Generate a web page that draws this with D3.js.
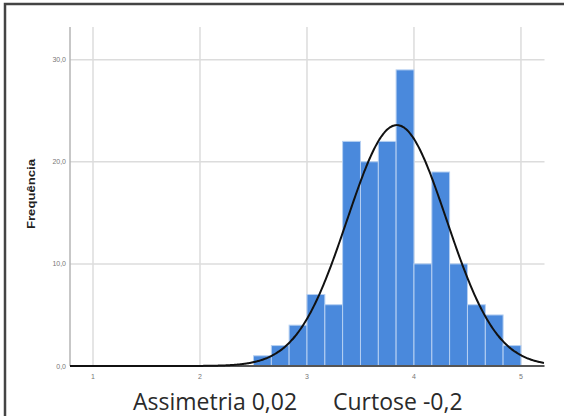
<!DOCTYPE html>
<html>
<head>
    <meta charset="utf-8">
    <title>Histograma</title>
    <script src="https://d3js.org/d3.v7.min.js"></script>
    <style>
        body { margin: 0; background: #fff; }
        .grid line { stroke: #dcdcdc; stroke-width: 1.5; }
        .tick-label { font: 7px Arial, "Liberation Sans", sans-serif; fill: #777; }
        .bar { fill: #4a89dc; stroke: #b6d0f2; stroke-width: 1; }
        .curve { fill: none; stroke: #111; stroke-width: 2; }
        .note { font: 23px "Open Sans", sans-serif; fill: #2a2a2a; }
    </style>
</head>
<body>
    <svg id="chart" width="564" height="416"></svg>

    <script>
        // histogram bins (lower edges) and frequencies
        var binStart = [2.5, 2.667, 2.833, 3.0, 3.167, 3.333, 3.5, 3.667, 3.833, 4.0, 4.167, 4.333, 4.5, 4.667, 4.833];
        var binEnd   = [2.667, 2.833, 3.0, 3.167, 3.333, 3.5, 3.667, 3.833, 4.0, 4.167, 4.333, 4.5, 4.667, 4.833, 5.0];
        var counts   = [1, 2, 4, 7, 6, 22, 20, 22, 29, 10, 19, 10, 6, 5, 2];

        var xTicks = [1, 2, 3, 4, 5];
        var yTicks = [0, 10, 20, 30];
        var yTickLabels = ["0,0", "10,0", "20,0", "30,0"];

        // fitted normal curve parameters
        var fitMean = 3.84, fitSd = 0.465, binWidth = 1 / 6;

        var svg = d3.select("#chart");

        // outer frame
        svg.append("rect")
            .attr("x", 5).attr("y", 4)
            .attr("width", 600).attr("height", 500)
            .attr("fill", "none")
            .attr("stroke", "#444")
            .attr("stroke-width", 2.5);

        var x = d3.scaleLinear().domain([0.785, 5.22]).range([70, 544.5]),
            y = d3.scaleLinear().domain([0, 33.2]).range([366, 27]);

        // grid lines
        var grid = svg.append("g").attr("class", "grid");
        grid.selectAll(".vg")
            .data(xTicks)
            .enter().append("line")
            .attr("x1", function(d) { return x(d); })
            .attr("x2", function(d) { return x(d); })
            .attr("y1", y.range()[1])
            .attr("y2", y(0));
        grid.selectAll(".hg")
            .data(yTicks.slice(1))
            .enter().append("line")
            .attr("x1", x.range()[0])
            .attr("x2", x.range()[1])
            .attr("y1", function(d) { return y(d); })
            .attr("y2", function(d) { return y(d); });

        // y axis line
        svg.append("line")
            .attr("x1", x.range()[0]).attr("x2", x.range()[0])
            .attr("y1", y.range()[1]).attr("y2", y(0))
            .attr("stroke", "#b5b5b5")
            .attr("stroke-width", 1.5);

        // bars
        svg.selectAll(".bar")
            .data(counts)
            .enter().append("rect")
            .attr("class", "bar")
            .attr("x", function(d, i) { return x(binStart[i]); })
            .attr("y", function(d) { return y(d); })
            .attr("width", function(d, i) { return x(binEnd[i]) - x(binStart[i]); })
            .attr("height", function(d) { return y(0) - y(d); });

        // x axis line
        svg.append("line")
            .attr("x1", x.range()[0]).attr("x2", x.range()[1])
            .attr("y1", y(0)).attr("y2", y(0))
            .attr("stroke", "#555")
            .attr("stroke-width", 2);

        // normal curve
        var total = d3.sum(counts);
        var xs = d3.range(x.domain()[0], x.domain()[1] + 0.001, 0.01);
        var line = d3.line()
            .x(function(d) { return x(d); })
            .y(function(d) {
                var z = (d - fitMean) / fitSd;
                return y(total * binWidth * Math.exp(-0.5 * z * z) / (fitSd * Math.sqrt(2 * Math.PI)));
            })
            .curve(d3.curveBasis);
        svg.append("path")
            .datum(xs)
            .attr("class", "curve")
            .attr("d", line);

        // tick labels
        svg.selectAll(".xl")
            .data(xTicks)
            .enter().append("text")
            .attr("class", "tick-label")
            .attr("x", function(d) { return x(d); })
            .attr("y", 379)
            .attr("text-anchor", "middle")
            .text(function(d) { return d; });
        svg.selectAll(".yl")
            .data(yTicks)
            .enter().append("text")
            .attr("class", "tick-label")
            .attr("x", 66)
            .attr("y", function(d) { return y(d) + 2.5; })
            .attr("text-anchor", "end")
            .text(function(d, i) { return yTickLabels[i]; });

        // axis title
        svg.append("text")
            .attr("transform", "translate(35,194) rotate(-90)")
            .attr("text-anchor", "middle")
            .attr("textLength", 70)
            .attr("lengthAdjust", "spacingAndGlyphs")
            .style("font", "bold 11px Arial, 'Liberation Sans', sans-serif")
            .attr("fill", "#222")
            .text("Frequência");

        // skewness / kurtosis note
        svg.append("text").attr("class", "note").attr("x", 133).attr("y", 410).text("Assimetria 0,02");
        svg.append("text").attr("class", "note").attr("x", 333).attr("y", 410).text("Curtose -0,2");
    </script>
</body>
</html>
